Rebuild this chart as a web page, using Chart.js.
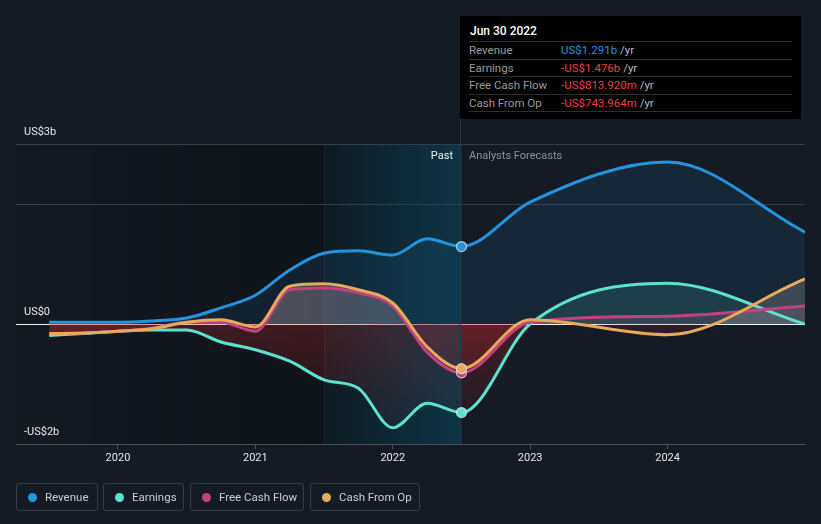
<!DOCTYPE html>
<html>
<head>
<meta charset="utf-8">
<script src="https://cdn.jsdelivr.net/npm/chart.js@4.4.0/dist/chart.umd.min.js"></script>
<style>
html,body{margin:0;padding:0;background:#151b24;width:821px;height:524px;overflow:hidden;font-family:Roboto,"Noto Sans",sans-serif;}
#wrap{position:relative;width:821px;height:524px;}
#c{position:absolute;left:0;top:0;}
#tip{position:absolute;left:460px;top:16px;width:341px;height:103px;background:#000;}
#tip .ttl{position:absolute;left:10px;top:8px;font-size:12px;line-height:14px;color:#fff;font-weight:500;}
#tip .row{position:absolute;left:9px;width:323px;height:16.5px;border-top:1px solid #2e2e2e;font-size:11.5px;line-height:16px;}
#tip .row.last{border-bottom:1px solid #2e2e2e;}
#tip .lab{position:absolute;left:0;top:0;color:#9a9a9a;}
#tip .val{position:absolute;left:92px;top:0;color:#bdbdbd;}
.blue{color:#2394df;}
.red{color:#e8403f;}
.plabel{position:absolute;top:149px;font-size:11px;line-height:14px;}
.leg{position:absolute;top:483px;height:26px;border:1px solid #373d47;border-radius:3px;box-sizing:content-box;}
.leg .dot{position:absolute;left:11px;top:9px;width:9px;height:9px;border-radius:50%;}
.leg .txt{position:absolute;left:28px;top:0;line-height:26px;font-size:11.5px;color:#c9cdd3;white-space:nowrap;}
</style>
</head>
<body>
<div id="wrap">
<canvas id="c" width="821" height="524"></canvas>
<div id="tip">
  <div class="ttl">Jun 30 2022</div>
  <div class="row" style="top:25px"><span class="lab">Revenue</span><span class="val"><span class="blue">US$1.291b</span> /yr</span></div>
  <div class="row" style="top:42.5px"><span class="lab">Earnings</span><span class="val"><span class="red">-US$1.476b</span> /yr</span></div>
  <div class="row" style="top:60px"><span class="lab">Free Cash Flow</span><span class="val"><span class="red">-US$813.920m</span> /yr</span></div>
  <div class="row last" style="top:77.5px"><span class="lab">Cash From Op</span><span class="val"><span class="red">-US$743.964m</span> /yr</span></div>
</div>
<div class="plabel" style="left:400px;width:53px;text-align:right;color:#eeeeee;">Past</div>
<div class="plabel" style="left:469px;color:#8d9299;">Analysts Forecasts</div>
<div class="leg" style="left:16px;width:80px;"><span class="dot" style="background:#2394df"></span><span class="txt">Revenue</span></div>
<div class="leg" style="left:103px;width:79px;"><span class="dot" style="background:#5ce3d0"></span><span class="txt">Earnings</span></div>
<div class="leg" style="left:190px;width:112px;"><span class="dot" style="background:#c4417f"></span><span class="txt">Free Cash Flow</span></div>
<div class="leg" style="left:310px;width:108px;"><span class="dot" style="background:#e8a95a"></span><span class="txt">Cash From Op</span></div>
</div>
<script>
// Data (US$ billions), x = decimal year
const dates    = [2019.5, 2019.75, 2020.0, 2020.25, 2020.5, 2020.75, 2021.0, 2021.25, 2021.5, 2021.75, 2022.0, 2022.25, 2022.5, 2023.0, 2024.0, 2025.0];
const revenue  = [0.03, 0.03, 0.03, 0.05, 0.10, 0.27, 0.48, 0.90, 1.18, 1.22, 1.15, 1.42, 1.291, 2.03, 2.70, 1.53];
const earnings = [-0.19, -0.16, -0.12, -0.10, -0.10, -0.30, -0.43, -0.62, -0.93, -1.07, -1.73, -1.32, -1.476, 0.00, 0.68, 0.00];
const fcf      = [-0.16, -0.15, -0.12, -0.07, 0.03, 0.03, -0.12, 0.57, 0.60, 0.52, 0.30, -0.47, -0.814, 0.03, 0.13, 0.30];
const cfo      = [-0.16, -0.15, -0.12, -0.08, 0.03, 0.07, -0.05, 0.63, 0.67, 0.57, 0.35, -0.38, -0.744, 0.07, -0.18, 0.75];
const xTicks   = [2020, 2021, 2022, 2023, 2024];
const yTicks   = [-2, 0, 2, 3];
const yLabels  = {'-2': '-US$2b', '0': 'US$0', '3': 'US$3b'};
const pastStart = 2021.5;
const pastEnd   = 2022.5;
const markIndex = 12;

function pts(arr){ return arr.map((v,i)=>({x: dates[i], y: v})); }

const radius = ctx => ctx.dataIndex === markIndex ? 5 : 0;

function redGrad(alpha){
  return (ctx) => {
    const c = ctx.chart;
    if (!c.chartArea || !c.scales.y) return 'rgba(200,40,48,' + alpha + ')';
    const y0 = c.scales.y.getPixelForValue(0), y1 = c.scales.y.getPixelForValue(-1.8);
    const g = c.ctx.createLinearGradient(0, y0, 0, y1);
    g.addColorStop(0, 'rgba(200,40,48,' + alpha + ')');
    g.addColorStop(1, 'rgba(200,40,48,' + (alpha * 0.2) + ')');
    return g;
  };
}

function ds(label, arr, color, above, belowAlpha, order){
  const below = redGrad(belowAlpha);
  return {
    label, data: pts(arr), borderColor: color, backgroundColor: color,
    borderWidth: 3, cubicInterpolationMode: 'monotone',
    pointRadius: radius, pointHoverRadius: radius,
    pointBackgroundColor: color, pointBorderColor: 'rgba(235,235,235,0.75)', pointBorderWidth: 1.2,
    fill: (ctx) => ({target: 'origin', above, below: below(ctx)}), order
  };
}

const bgPlugin = {
  id: 'bgPlugin',
  beforeDraw(chart){
    const {ctx, chartArea: a, scales: {x}} = chart;
    const xs = x.getPixelForValue(pastStart), xe = x.getPixelForValue(pastEnd);
    ctx.save();
    let g = ctx.createLinearGradient(a.left, 0, xs, 0);
    g.addColorStop(0, 'rgba(0,0,0,0.03)');
    g.addColorStop(1, 'rgba(0,0,0,0.25)');
    ctx.fillStyle = g;
    ctx.fillRect(a.left, a.top, xs - a.left, a.bottom - a.top);
    g = ctx.createLinearGradient(xs, 0, xe, 0);
    g.addColorStop(0, '#0f1a21');
    g.addColorStop(1, '#0a2d3b');
    ctx.fillStyle = g;
    ctx.fillRect(xs, a.top, xe - xs, a.bottom - a.top);
    ctx.restore();
  },
  beforeDatasetsDraw(chart){
    const {ctx, chartArea: a, scales: {x}} = chart;
    const xs = x.getPixelForValue(pastStart), xe = x.getPixelForValue(pastEnd);
    ctx.save();
    const g = ctx.createLinearGradient(xs, 0, xe, 0);
    g.addColorStop(0, 'rgba(20,70,90,0.0)');
    g.addColorStop(1, 'rgba(20,70,90,0.28)');
    ctx.fillStyle = g;
    ctx.fillRect(xs, a.top, xe - xs, a.bottom - a.top);
    ctx.strokeStyle = 'rgba(255,255,255,0.05)';
    ctx.lineWidth = 1;
    ctx.beginPath(); ctx.moveTo(Math.round(xs)+0.5, a.top); ctx.lineTo(Math.round(xs)+0.5, a.bottom); ctx.stroke();
    ctx.strokeStyle = '#1f3a46';
    ctx.beginPath(); ctx.moveTo(Math.round(xe)-0.5, 16); ctx.lineTo(Math.round(xe)-0.5, a.bottom); ctx.stroke();
    ctx.restore();
  }
};

new Chart(document.getElementById('c'), {
  type: 'line',
  data: {
    datasets: [
      ds('Revenue', revenue, '#2394df', 'rgba(35,148,223,0.10)', 0.1, 4),
      ds('Earnings', earnings, '#5ce3d0', 'rgba(92,227,208,0.12)', 0.26, 3),
      ds('Free Cash Flow', fcf, '#c4417f', 'rgba(200,130,165,0.13)', 0.13, 2),
      ds('Cash From Op', cfo, '#e8a95a', 'rgba(215,205,205,0.20)', 0.13, 1)
    ]
  },
  options: {
    responsive: false, animation: false,
    layout: {padding: {top: 144, left: 16, right: 16, bottom: 50}},
    plugins: {legend: {display: false}, tooltip: {enabled: false}, filler: {drawTime: 'beforeDatasetsDraw'}},
    events: [],
    scales: {
      x: {
        type: 'linear', min: 2019.258, max: 2025.0,
        afterBuildTicks: s => { s.ticks = xTicks.map(v => ({value: v})); },
        afterFit: s => { s.height = 30; },
        grid: {drawOnChartArea: false, color: '#4a4f57', tickLength: 5},
        border: {color: '#4a4f57'},
        ticks: {autoSkip: false, maxRotation: 0, padding: 3, color: '#e6e6e6', font: {family: 'Roboto', size: 11}, callback: v => String(v)}
      },
      y: {
        min: -2, max: 3,
        afterBuildTicks: s => { s.ticks = yTicks.map(v => ({value: v})); },
        afterFit: s => { s.width = 0; },
        border: {display: false},
        grid: {drawTicks: false, color: c => c.tick && c.tick.value === 0 ? '#f0f0f0' : (c.tick && c.tick.value === -2 ? 'rgba(0,0,0,0)' : '#373c45'), lineWidth: 1},
        ticks: {mirror: true, padding: 8, labelOffset: -12, color: '#e6e6e6', font: {family: 'Roboto', size: 11}, autoSkip: false,
                callback: v => yLabels[String(v)] || ''}
      }
    }
  },
  plugins: [bgPlugin]
});
</script>
</body>
</html>
